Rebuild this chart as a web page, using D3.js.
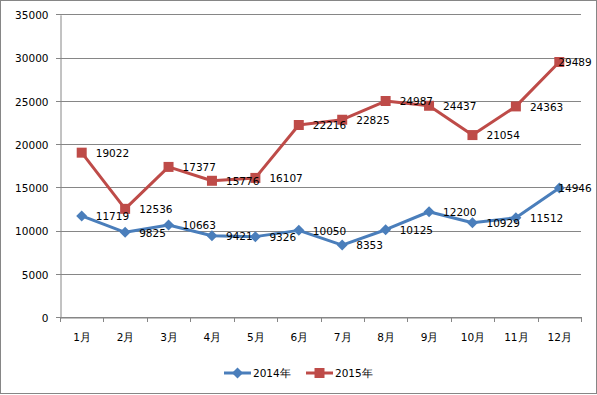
<!DOCTYPE html>
<html>
<head>
<meta charset="utf-8">
<script src="https://cdn.jsdelivr.net/npm/d3@7"></script>
<style>
  body { margin: 0; background: #fff; }
  text { font-family: "DejaVu Sans", Verdana, sans-serif; font-size: 10.5px; fill: #000; }
</style>
</head>
<body>
<script>
const months = ['1月', '2月', '3月', '4月', '5月', '6月', '7月', '8月', '9月', '10月', '11月', '12月']
const y2014 = [11719, 9825, 10663, 9421, 9326, 10050, 8353, 10125, 12200, 10929, 11512, 14946]
const y2015 = [19022, 12536, 17377, 15776, 16107, 22216, 22825, 24987, 24437, 21054, 24363, 29489]
const yTicks = [0, 5000, 10000, 15000, 20000, 25000, 30000, 35000]

const width = 597
const height = 395
const margin = { left: 60, right: 16, top: 14, bottom: 78 }

const svg = d3.select('body').append('svg')
  .attr('width', width)
  .attr('height', height)

// outer border
svg.append('rect')
  .attr('x', 0.5).attr('y', 0.5)
  .attr('width', width - 1).attr('height', height - 2)
  .attr('fill', '#fff')
  .attr('stroke', '#868686')

const x = d3.scaleBand()
  .domain(months)
  .range([margin.left, width - margin.right])

const y = d3.scaleLinear()
  .domain([0, 35000])
  .range([317.4, 14.3])

// gridlines
svg.append('g')
  .selectAll('line')
  .data(yTicks)
  .join('line')
  .attr('x1', margin.left - 4)
  .attr('x2', width - margin.right)
  .attr('y1', d => Math.round(y(d)) + 0.5)
  .attr('y2', d => Math.round(y(d)) + 0.5)
  .attr('stroke', '#868686')

// y axis
const yAxis = svg.append('g')
  .attr('transform', `translate(${margin.left + 0.5},0.5)`)
  .call(d3.axisLeft(y).tickValues(yTicks).tickSize(0).tickPadding(12).tickFormat(d3.format('d')))
yAxis.select('.domain').attr('stroke', '#868686')
yAxis.selectAll('text').attr('dy', '0.35em').attr('dx', '0')

// x axis
const xAxis = svg.append('g')
  .attr('transform', `translate(0.5,${Math.round(y(0)) + 0.5})`)
  .call(d3.axisBottom(x).tickSize(0).tickPadding(16))
xAxis.select('.domain').attr('stroke', '#868686')
xAxis.selectAll('text').attr('dy', '0.71em')

svg.append('g')
  .selectAll('line')
  .data(months.concat(['end']))
  .join('line')
  .attr('x1', (d, i) => Math.round(margin.left + i * x.step()) + 0.5)
  .attr('x2', (d, i) => Math.round(margin.left + i * x.step()) + 0.5)
  .attr('y1', Math.round(y(0)))
  .attr('y2', Math.round(y(0)) + 5)
  .attr('stroke', '#868686')

const cx = d => x(d) + x.bandwidth() / 2

// wide diamond like the excel marker
const diamond = 'M0,-5.5L5.5,0L0,5.5L-5.5,0Z'
const square = d3.symbol(d3.symbolSquare, 100)()

const series = [
  { name: '2014年', values: y2014, color: '#4A7EBB', marker: diamond },
  { name: '2015年', values: y2015, color: '#BE4B48', marker: square }
]

const line = d3.line()
  .x(d => cx(d.m))
  .y(d => y(d.v))

series.forEach(s => {
  const pts = months.map((m, i) => ({ m, v: s.values[i] }))
  svg.append('path')
    .datum(pts)
    .attr('fill', 'none')
    .attr('stroke', s.color)
    .attr('stroke-width', 3)
    .attr('stroke-linejoin', 'round')
    .attr('d', line)

  svg.append('g')
    .selectAll('path')
    .data(pts)
    .join('path')
    .attr('transform', d => `translate(${cx(d.m)},${y(d.v)})`)
    .attr('d', s.marker)
    .attr('fill', s.color)
})

// data labels (last one pulled back inside the chart area)
series.forEach(s => {
  svg.append('g')
    .selectAll('text')
    .data(months.map((m, i) => ({ m, v: s.values[i] })))
    .join('text')
    .attr('x', (d, i) => i === months.length - 1 ? cx(d.m) - 1 : cx(d.m) + 14)
    .attr('y', d => y(d.v))
    .attr('dy', '0.4em')
    .text(d => d.v)
})

// legend
const legend = svg.append('g')
  .attr('transform', 'translate(224,373)')

series.forEach((s, i) => {
  const g = legend.append('g').attr('transform', `translate(${i * 82},0)`)
  g.append('line')
    .attr('x1', 0).attr('x2', 27)
    .attr('stroke', s.color)
    .attr('stroke-width', 3)
  g.append('path')
    .attr('transform', 'translate(13.5,0)')
    .attr('d', s.marker)
    .attr('fill', s.color)
  g.append('text')
    .attr('x', 29)
    .attr('dy', '0.35em')
    .text(s.name)
})
</script>
</body>
</html>
